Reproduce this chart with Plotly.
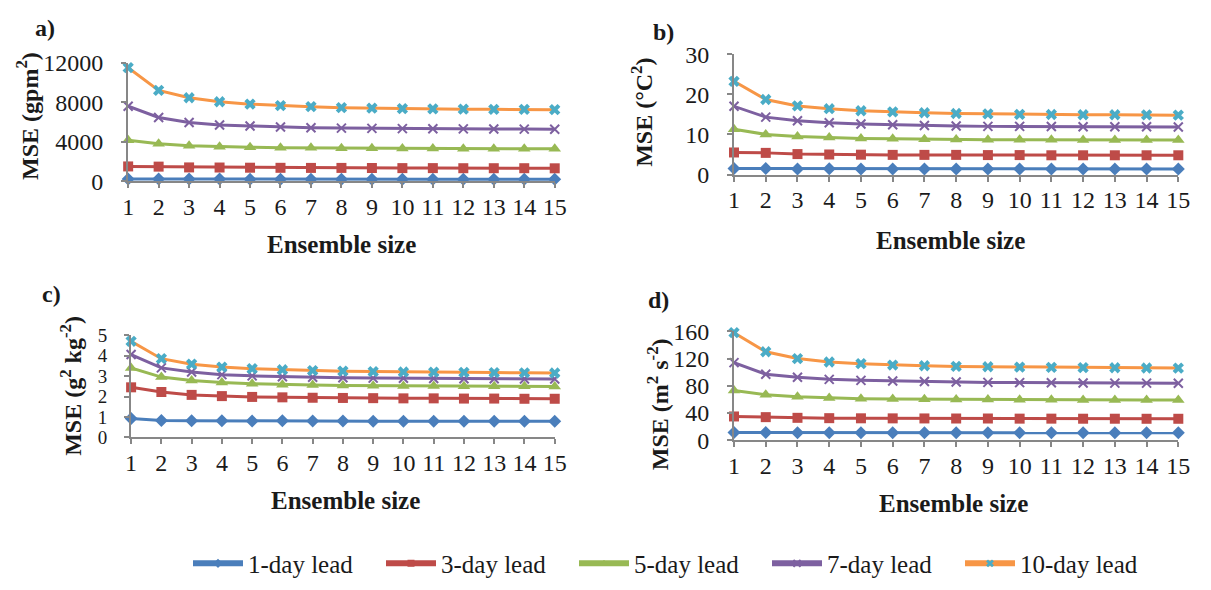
import plotly.graph_objects as go

sizes = list(range(1, 16))
leads = ["1-day lead", "3-day lead", "5-day lead", "7-day lead", "10-day lead"]

# Panel a) geopotential height MSE (gpm^2)
a_1 = [230, 220, 215, 215, 210, 210, 210, 210, 205, 205, 205, 205, 205, 205, 205]
a_3 = [1500, 1480, 1400, 1390, 1370, 1360, 1350, 1350, 1340, 1330, 1330, 1320, 1320, 1320, 1310]
a_5 = [4150, 3800, 3600, 3500, 3450, 3400, 3380, 3350, 3340, 3320, 3310, 3300, 3300, 3290, 3290]
a_7 = [7600, 6450, 5950, 5700, 5600, 5500, 5420, 5380, 5350, 5330, 5310, 5300, 5290, 5280, 5270]
a_10 = [11500, 9200, 8450, 8050, 7800, 7650, 7550, 7450, 7400, 7350, 7320, 7300, 7280, 7270, 7250]

# Panel b) temperature MSE (degC^2)
b_1 = [1.5, 1.5, 1.4, 1.45, 1.4, 1.4, 1.4, 1.4, 1.4, 1.4, 1.4, 1.4, 1.4, 1.4, 1.4]
b_3 = [5.5, 5.4, 5.1, 5.0, 4.95, 4.9, 4.9, 4.9, 4.85, 4.85, 4.8, 4.8, 4.8, 4.8, 4.8]
b_5 = [11.3, 10.0, 9.5, 9.2, 9.0, 8.9, 8.8, 8.75, 8.7, 8.7, 8.65, 8.6, 8.6, 8.6, 8.6]
b_7 = [17.0, 14.3, 13.4, 12.9, 12.6, 12.4, 12.2, 12.1, 12.0, 12.0, 11.95, 11.9, 11.9, 11.9, 11.85]
b_10 = [23.2, 18.7, 17.1, 16.4, 15.9, 15.6, 15.4, 15.2, 15.1, 15.0, 14.95, 14.9, 14.9, 14.85, 14.8]

# Panel c) specific humidity MSE (g^2 kg^-2)
c_1 = [0.92, 0.83, 0.82, 0.81, 0.80, 0.81, 0.80, 0.80, 0.79, 0.79, 0.79, 0.79, 0.79, 0.79, 0.79]
c_3 = [2.45, 2.22, 2.08, 2.02, 1.98, 1.96, 1.94, 1.93, 1.92, 1.91, 1.91, 1.90, 1.90, 1.89, 1.89]
c_5 = [3.40, 2.95, 2.78, 2.68, 2.63, 2.58, 2.56, 2.54, 2.53, 2.52, 2.51, 2.50, 2.50, 2.50, 2.49]
c_7 = [4.05, 3.40, 3.20, 3.07, 3.01, 2.97, 2.94, 2.92, 2.90, 2.89, 2.88, 2.87, 2.87, 2.86, 2.86]
c_10 = [4.70, 3.85, 3.58, 3.44, 3.36, 3.31, 3.27, 3.24, 3.22, 3.20, 3.19, 3.18, 3.17, 3.16, 3.15]

# Panel d) wind MSE (m^2 s^-2)
d_1 = [11.5, 11.5, 11.0, 11.2, 11.0, 11.0, 11.0, 11.0, 11.0, 11.0, 11.0, 11.0, 11.0, 11.0, 11.0]
d_3 = [35.0, 34.0, 33.0, 32.5, 32.3, 32.2, 32.1, 32.0, 32.0, 31.8, 31.8, 31.7, 31.7, 31.6, 31.6]
d_5 = [73.0, 67.0, 64.0, 62.0, 61.0, 60.5, 60.2, 60.0, 59.8, 59.5, 59.4, 59.3, 59.2, 59.1, 59.0]
d_7 = [114.0, 97.0, 92.5, 89.5, 88.0, 87.0, 86.3, 85.5, 85.0, 84.7, 84.4, 84.2, 84.0, 83.9, 83.8]
d_10 = [158.0, 130.0, 120.0, 115.0, 112.5, 110.5, 109.5, 108.5, 108.0, 107.5, 107.0, 106.8, 106.5, 106.2, 106.0]

a_ticks = [0, 4000, 8000, 12000]
b_ticks = [0, 10, 20, 30]
c_ticks = [0, 1, 2, 3, 4, 5]
d_ticks = [0, 40, 80, 120, 160]

panels = [
    ("a)", [a_1, a_3, a_5, a_7, a_10], a_ticks, "MSE (gpm<sup>2</sup>)"),
    ("b)", [b_1, b_3, b_5, b_7, b_10], b_ticks, "MSE (°C<sup>2</sup>)"),
    ("c)", [c_1, c_3, c_5, c_7, c_10], c_ticks, "MSE (g<sup>2</sup> kg<sup>-2</sup>)"),
    ("d)", [d_1, d_3, d_5, d_7, d_10], d_ticks, "MSE (m<sup>2</sup> s<sup>-2</sup>)"),
]

W, H = 1211, 590
FONT = "Liberation Serif, Times New Roman, serif"
TXT = "#1a1a1a"
AXC = "#878787"

line_colors = ["#4A7EBB", "#BE4B48", "#98B954", "#7D60A0", "#F79646"]
markers = [
    dict(symbol="diamond", size=10, color="#4A7EBB"),
    dict(symbol="square", size=10, color="#BE4B48"),
    dict(symbol="triangle-up", size=11, color="#98B954"),
    dict(symbol="x-thin-open", size=9, color="#7D60A0", line=dict(width=2, color="#7D60A0")),
    dict(symbol="x", size=10, color="#4BACC6"),
]

# pixel layout of each plot area: (x_left, x_right, y_bottom(0), y_top)
areas = [
    (124, 557, 176, 52),
    (739, 1190, 169, 43),
    (127, 557, 444, 337),
    (739, 1190, 447, 333),
]
ytick_sizes = [24, 24, 19, 24]
label_pos = [(40, 16), (667, 20), (46, 294), (662, 300)]
ytitle_pos = [(22, 108), (646, 104), (66, 390), (662, 409)]
xtitle_pos = [(341, 242), (959, 238), (345, 510), (962, 513)]

fig = go.Figure()
annotations = []
layout_axes = {}

for i, (lab, series, yt, ytitle) in enumerate(panels):
    n = i + 1
    xa = "x" if n == 1 else f"x{n}"
    ya = "y" if n == 1 else f"y{n}"
    xl, xr, yb, ytp = areas[i]
    for k, vals in enumerate(series):
        fig.add_trace(go.Scatter(
            x=sizes, y=vals, xaxis=xa, yaxis=ya, mode="lines+markers",
            line=dict(color=line_colors[k], width=3),
            marker=markers[k], cliponaxis=False, showlegend=False, name=leads[k],
        ))
    layout_axes[f"xaxis{'' if n == 1 else n}"] = dict(
        domain=[xl / W, xr / W], anchor=ya, range=[1, 15], tickvals=sizes,
        showgrid=False, zeroline=False, showline=True, linecolor=AXC, linewidth=2,
        ticks="outside", ticklen=5, tickcolor=AXC, tickwidth=2,
        tickfont=dict(family=FONT, size=24, color=TXT), ticklabelstandoff=-2,
    )
    layout_axes[f"yaxis{'' if n == 1 else n}"] = dict(
        domain=[1 - yb / H, 1 - ytp / H], anchor=xa, range=[yt[0], yt[-1]],
        tickvals=yt, ticktext=[str(v) for v in yt],
        showgrid=False, zeroline=False, showline=True, linecolor=AXC, linewidth=2,
        ticks="outside", ticklen=5, tickcolor=AXC, tickwidth=2,
        tickfont=dict(family=FONT, size=ytick_sizes[i], color=TXT), ticklabelstandoff=13,
    )
    annotations.append(dict(text=f"<b>{lab}</b>", x=label_pos[i][0] / W, y=1 - label_pos[i][1] / H,
                            xref="paper", yref="paper", showarrow=False,
                            xanchor="center", yanchor="middle",
                            font=dict(family=FONT, size=24, color=TXT)))
    annotations.append(dict(text=f"<b>{ytitle}</b>", x=ytitle_pos[i][0] / W, y=1 - ytitle_pos[i][1] / H,
                            xref="paper", yref="paper", showarrow=False, textangle=-90,
                            xanchor="center", yanchor="middle",
                            font=dict(family=FONT, size=24, color=TXT)))
    annotations.append(dict(text="<b>Ensemble size</b>", x=xtitle_pos[i][0] / W, y=1 - xtitle_pos[i][1] / H,
                            xref="paper", yref="paper", showarrow=False,
                            xanchor="center", yanchor="middle",
                            font=dict(family=FONT, size=25, color=TXT)))

# legend-only entries
for k in range(5):
    m = dict(markers[k])
    m["size"] = 7
    fig.add_trace(go.Scatter(
        x=[None], y=[None], mode="lines+markers", name=leads[k],
        line=dict(color=line_colors[k], width=6), marker=m, showlegend=True,
    ))

fig.update_layout(
    width=W, height=H, margin=dict(l=0, r=0, t=0, b=0),
    paper_bgcolor="white", plot_bgcolor="white",
    annotations=annotations,
    legend=dict(orientation="h", x=0.557, xanchor="center", y=1 - 576 / H, yanchor="middle",
                font=dict(family=FONT, size=25, color=TXT), itemwidth=50,
                entrywidth=128, entrywidthmode="pixels",
                traceorder="normal", bgcolor="rgba(0,0,0,0)"),
    **layout_axes,
)

fig.write_html("out.html")
